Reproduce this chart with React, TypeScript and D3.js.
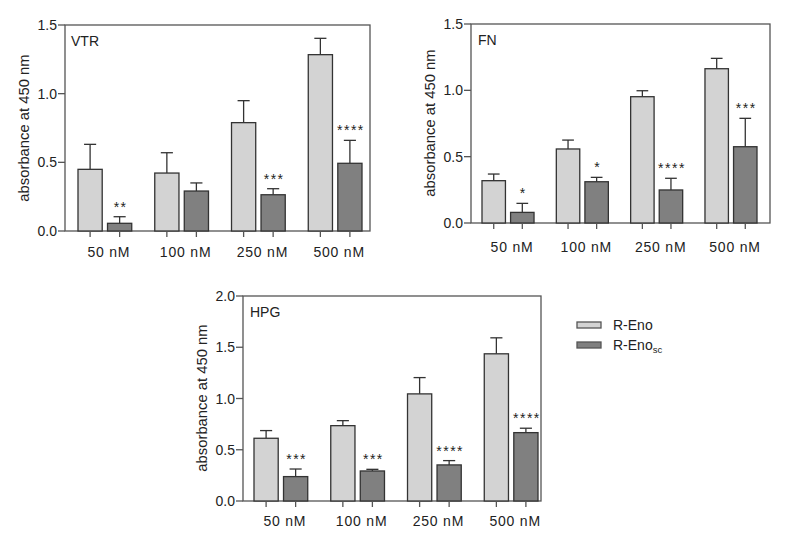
import * as d3 from 'd3'

const doses = ['50 nM', '100 nM', '250 nM', '500 nM']
const groups = ['R-Eno', 'R-Eno_sc']

// VTR
const vtrEno = [0.449, 0.422, 0.789, 1.284]
const vtrEnoErr = [0.182, 0.148, 0.16, 0.119]
const vtrEnoSc = [0.056, 0.291, 0.264, 0.493]
const vtrEnoScErr = [0.048, 0.059, 0.044, 0.167]
const vtrSig = ['**', '', '***', '****']

// FN
const fnEno = [0.319, 0.558, 0.952, 1.163]
const fnEnoErr = [0.05, 0.067, 0.045, 0.078]
const fnEnoSc = [0.08, 0.311, 0.249, 0.575]
const fnEnoScErr = [0.068, 0.033, 0.088, 0.214]
const fnSig = ['*', '*', '****', '***']

// HPG
const hpgEno = [0.612, 0.735, 1.045, 1.436]
const hpgEnoErr = [0.075, 0.049, 0.159, 0.156]
const hpgEnoSc = [0.238, 0.293, 0.352, 0.667]
const hpgEnoScErr = [0.074, 0.016, 0.042, 0.043]
const hpgSig = ['***', '***', '****', '****']

const vtrTicks = [0, 0.5, 1.0, 1.5]
const hpgTicks = [0, 0.5, 1.0, 1.5, 2.0]

const LIGHT = '#d3d3d3'
const DARK = '#808080'
const STROKE = '#333'
const AXIS = '#555'
const TEXT = '#222'
const FONT = 'Arial, "Liberation Sans", Helvetica, sans-serif'

type PanelProps = {
  title: string
  eno: number[]
  enoErr: number[]
  enoSc: number[]
  enoScErr: number[]
  sig: string[]
  ticks: number[]
  yMax: number
  left: number
  right: number
  top: number
  bottom: number
  barStart: number
  barEnd: number
  titleDx: number
  labelDy: number
  midY: number
}

function Panel(p: PanelProps) {
  const x = d3.scaleBand<string>().domain(doses).range([p.barStart, p.barEnd]).paddingInner(0.3).paddingOuter(0)
  const xi = d3.scaleBand<string>().domain(groups).range([0, x.bandwidth()]).paddingInner(0.18).paddingOuter(0)
  const y = d3.scaleLinear().domain([0, p.yMax]).range([p.bottom, p.top])
  const bw = xi.bandwidth()
  const fmt = d3.format('.1f')

  const bars = doses.flatMap((d, i) => [
    { dose: d, g: groups[0], v: p.eno[i], e: p.enoErr[i], s: '' },
    { dose: d, g: groups[1], v: p.enoSc[i], e: p.enoScErr[i], s: p.sig[i] },
  ])

  return (
    <g>
      {/* frame */}
      <rect x={p.left} y={p.top} width={p.right - p.left} height={p.bottom - p.top} fill="none" stroke={AXIS} strokeWidth={1.3} />

      {/* bars */}
      {bars.map((b, k) => {
        const bx = (x(b.dose) ?? 0) + (xi(b.g) ?? 0)
        const cx = bx + bw / 2
        const yTop = y(b.v)
        const yErr = y(b.v + b.e)
        return (
          <g key={k}>
            <line x1={cx} x2={cx} y1={yTop} y2={yErr} stroke={STROKE} strokeWidth={1.3} />
            <line x1={cx - bw / 4} x2={cx + bw / 4} y1={yErr} y2={yErr} stroke={STROKE} strokeWidth={1.3} />
            <rect x={bx} y={yTop} width={bw} height={p.bottom - yTop} fill={b.g === groups[0] ? LIGHT : DARK} stroke={STROKE} strokeWidth={1.3} />
            {b.s && (
              <text x={cx + 1} y={yErr - 5} textAnchor="middle" fontSize={14} letterSpacing={1.5} fill={TEXT} fontFamily={FONT}>
                {b.s}
              </text>
            )}
            <line x1={cx} x2={cx} y1={p.bottom} y2={p.bottom + 6} stroke={AXIS} strokeWidth={1.3} />
          </g>
        )
      })}

      {/* y ticks */}
      {p.ticks.map((t) => (
        <g key={t}>
          <line x1={p.left - 7} x2={p.left} y1={y(t)} y2={y(t)} stroke={AXIS} strokeWidth={1.3} />
          <text x={p.left - 8} y={y(t) + 5} textAnchor="end" fontSize={14} fill={TEXT} fontFamily={FONT}>
            {fmt(t)}
          </text>
        </g>
      ))}

      {/* x labels */}
      {doses.map((d) => (
        <text key={d} x={(x(d) ?? 0) + x.bandwidth() / 2 + 4} y={p.bottom + p.labelDy} textAnchor="middle" fontSize={14} letterSpacing={0.8} fill={TEXT} fontFamily={FONT}>
          {d}
        </text>
      ))}

      {/* y title */}
      <text transform={`translate(${p.left - 36},${p.midY}) rotate(-90)`} textAnchor="middle" fontSize={14.8} fill={TEXT} fontFamily={FONT}>
        absorbance at 450 nm
      </text>

      {/* panel label */}
      <text x={p.left + p.titleDx} y={p.top + 20.5} fontSize={14} fill={TEXT} fontFamily={FONT}>
        {p.title}
      </text>
    </g>
  )
}

export default function App() {
  return (
    <svg width={785} height={539} style={{ position: 'absolute', left: 0, top: 0, background: '#fff' }}>
      <Panel title="VTR" eno={vtrEno} enoErr={vtrEnoErr} enoSc={vtrEnoSc} enoScErr={vtrEnoScErr} sig={vtrSig}
        ticks={vtrTicks} yMax={1.5} left={65} right={370} top={25} bottom={231} barStart={78} barEnd={362}
        titleDx={6} labelDy={26} midY={128} />
      <Panel title="FN" eno={fnEno} enoErr={fnEnoErr} enoSc={fnEnoSc} enoScErr={fnEnoScErr} sig={fnSig}
        ticks={vtrTicks} yMax={1.5} left={471} right={770} top={24} bottom={223} barStart={482} barEnd={757}
        titleDx={7} labelDy={29} midY={123} />
      <Panel title="HPG" eno={hpgEno} enoErr={hpgEnoErr} enoSc={hpgEnoSc} enoScErr={hpgEnoScErr} sig={hpgSig}
        ticks={hpgTicks} yMax={2.0} left={243} right={541} top={296} bottom={501} barStart={254} barEnd={538}
        titleDx={7} labelDy={25} midY={398} />

      {/* legend */}
      <rect x={577} y={322} width={24} height={6} fill={LIGHT} stroke={AXIS} strokeWidth={1.3} />
      <text x={613} y={330} fontSize={14} fill={TEXT} fontFamily={FONT}>R-Eno</text>
      <rect x={577} y={342} width={24} height={6} fill={DARK} stroke={AXIS} strokeWidth={1.3} />
      <text x={613} y={350} fontSize={14} fill={TEXT} fontFamily={FONT}>
        R-Eno<tspan fontSize={9.5} dy={3}>sc</tspan>
      </text>
    </svg>
  )
}
